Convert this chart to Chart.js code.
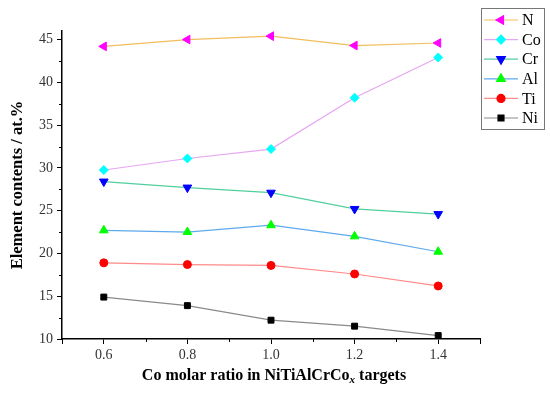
<!DOCTYPE html>
<html>
<head>
<meta charset="utf-8">
<script src="https://cdn.jsdelivr.net/npm/chart.js@4.4.0/dist/chart.umd.min.js"></script>
<style>
  html, body { margin: 0; padding: 0; background: #fff; }
  #wrap { width: 550px; height: 395px; }
</style>
</head>
<body>
<div id="wrap"><canvas id="chart" width="550" height="395"></canvas></div>
<script>
// Co molar ratio x
const coRatio = [0.6, 0.8, 1.0, 1.2, 1.4];
const xTicks = [0.6, 0.8, 1.0, 1.2, 1.4];
const yTicks = [10, 15, 20, 25, 30, 35, 40, 45];

// element contents, at.%
const nVals  = [44.2, 45.0, 45.4, 44.3, 44.6];
const coVals = [29.75, 31.1, 32.2, 38.2, 42.9];
const crVals = [28.4, 27.7, 27.1, 25.2, 24.6];
const alVals = [22.7, 22.5, 23.3, 22.0, 20.2];
const tiVals = [18.9, 18.7, 18.6, 17.6, 16.2];
const niVals = [14.9, 13.9, 12.2, 11.5, 10.4];

const serif = "'Liberation Serif', 'Times New Roman', serif";

function pts(vals) {
    return vals.map((v, i) => ({ x: coRatio[i], y: v }));
}

function series(label, vals, line, fill, style, radius, rotation) {
    return {
        label: label,
        data: pts(vals),
        borderColor: line,
        borderWidth: 1.2,
        backgroundColor: fill,
        pointBackgroundColor: fill,
        pointBorderColor: fill,
        pointBorderWidth: 1,
        pointStyle: style,
        pointRadius: radius,
        pointRotation: rotation || 0,
        tension: 0
    };
}

const datasets = [
    series('N',  nVals,  '#f2bd5c', '#ff00ff', 'triangle', 5, -90),
    series('Co', coVals, '#e6a6f2', '#00ffff', 'rectRot', 4.5),
    series('Cr', crVals, '#52cf9e', '#0000ff', 'triangle', 5, 180),
    series('Al', alVals, '#5fa9ee', '#00ff00', 'triangle', 5),
    series('Ti', tiVals, '#ff8a8a', '#ff0000', 'circle', 4),
    series('Ni', niVals, '#8a8a8a', '#000000', 'rect', 4.2)
];

// minor ticks, axis titles and legend box
const extras = {
    id: 'extras',
    afterDraw(chart) {
        const ctx = chart.ctx;
        const xs = chart.scales.x, ys = chart.scales.y;
        const area = chart.chartArea;
        ctx.save();
        ctx.strokeStyle = '#000';
        ctx.lineWidth = 1;
        ctx.beginPath();
        for (let i = 0; i < xTicks.length - 1; i++) {
            const px = Math.round(xs.getPixelForValue((xTicks[i] + xTicks[i + 1]) / 2)) + 0.5;
            ctx.moveTo(px, area.bottom);
            ctx.lineTo(px, area.bottom + 3);
        }
        for (const px of [xs.getPixelForValue(0.5), xs.getPixelForValue(1.5)]) {
            ctx.moveTo(Math.round(px) + 0.5, area.bottom);
            ctx.lineTo(Math.round(px) + 0.5, area.bottom + 5);
        }
        for (let i = 0; i < yTicks.length - 1; i++) {
            const py = Math.round(ys.getPixelForValue((yTicks[i] + yTicks[i + 1]) / 2)) + 0.5;
            ctx.moveTo(area.left, py);
            ctx.lineTo(area.left - 3, py);
        }
        ctx.stroke();

        // x title with subscript
        ctx.fillStyle = '#000';
        ctx.textBaseline = 'alphabetic';
        const main = 'Co molar ratio in NiTiAlCrCo';
        const tail = ' targets';
        ctx.font = 'bold 16px ' + serif;
        const w1 = ctx.measureText(main).width;
        const w3 = ctx.measureText(tail).width;
        ctx.font = 'italic bold 11px ' + serif;
        const w2 = ctx.measureText('x').width;
        const cx = (area.left + area.right) / 2 + 3;
        let x0 = cx - (w1 + w2 + w3) / 2;
        const by = 380;
        ctx.font = 'bold 16px ' + serif;
        ctx.fillText(main, x0, by);
        ctx.font = 'italic bold 11px ' + serif;
        ctx.fillText('x', x0 + w1, by + 3);
        ctx.font = 'bold 16px ' + serif;
        ctx.fillText(tail, x0 + w1 + w2, by);

        // y title
        ctx.save();
        ctx.translate(22, (area.top + area.bottom) / 2);
        ctx.rotate(-Math.PI / 2);
        ctx.textAlign = 'center';
        ctx.font = 'bold 16.5px ' + serif;
        ctx.fillText('Element contents / at.%', 0, 0);
        ctx.restore();

        // legend
        const lx = 481, ly = 8, lw = 63, lh = 121;
        ctx.strokeStyle = '#777';
        ctx.lineWidth = 1;
        ctx.strokeRect(lx + 0.5, ly + 0.5, lw, lh);
        ctx.font = '16px ' + serif;
        ctx.textBaseline = 'middle';
        ctx.textAlign = 'left';
        chart.data.datasets.forEach((ds, i) => {
            const y = ly + 12 + i * 19.6;
            ctx.strokeStyle = ds.borderColor;
            ctx.lineWidth = 1.2;
            ctx.beginPath();
            ctx.moveTo(lx + 3, y);
            ctx.lineTo(lx + 37, y);
            ctx.stroke();
            ctx.fillStyle = ds.pointBackgroundColor;
            ctx.strokeStyle = ds.pointBorderColor;
            Chart.helpers.drawPoint(ctx, {
                pointStyle: ds.pointStyle,
                radius: ds.pointRadius,
                rotation: ds.pointRotation,
                borderWidth: 1
            }, lx + 20, y);
            ctx.fillStyle = '#000';
            ctx.fillText(ds.label, lx + 41, y + 1);
        });
        ctx.restore();
    }
};

new Chart(document.getElementById('chart'), {
    type: 'line',
    data: { datasets: datasets },
    plugins: [extras],
    options: {
        responsive: false,
        animation: false,
        layout: { padding: { top: 31, right: 70, left: 0, bottom: 0 } },
        plugins: {
            legend: { display: false },
            tooltip: { enabled: false }
        },
        scales: {
            x: {
                type: 'linear',
                min: 0.5,
                max: 1.5,
                afterBuildTicks: function (s) { s.ticks = xTicks.map(v => ({ value: v })); },
                afterFit: function (s) { s.height = 56; },
                grid: { drawOnChartArea: false, drawTicks: true, tickLength: 5, color: '#000' },
                border: { display: true, color: '#000', width: 1.5 },
                ticks: {
                    color: '#333',
                    padding: 3,
                    font: { family: serif, size: 14 },
                    callback: v => v.toFixed(1)
                }
            },
            y: {
                type: 'linear',
                min: 10,
                max: 46,
                afterBuildTicks: function (s) { s.ticks = yTicks.map(v => ({ value: v })); },
                afterFit: function (s) { s.width = 62; },
                grid: { drawOnChartArea: false, drawTicks: true, tickLength: 5, color: '#000' },
                border: { display: true, color: '#000', width: 1.5 },
                ticks: {
                    color: '#333',
                    padding: 4,
                    font: { family: serif, size: 14 }
                }
            }
        }
    }
});
</script>
</body>
</html>
